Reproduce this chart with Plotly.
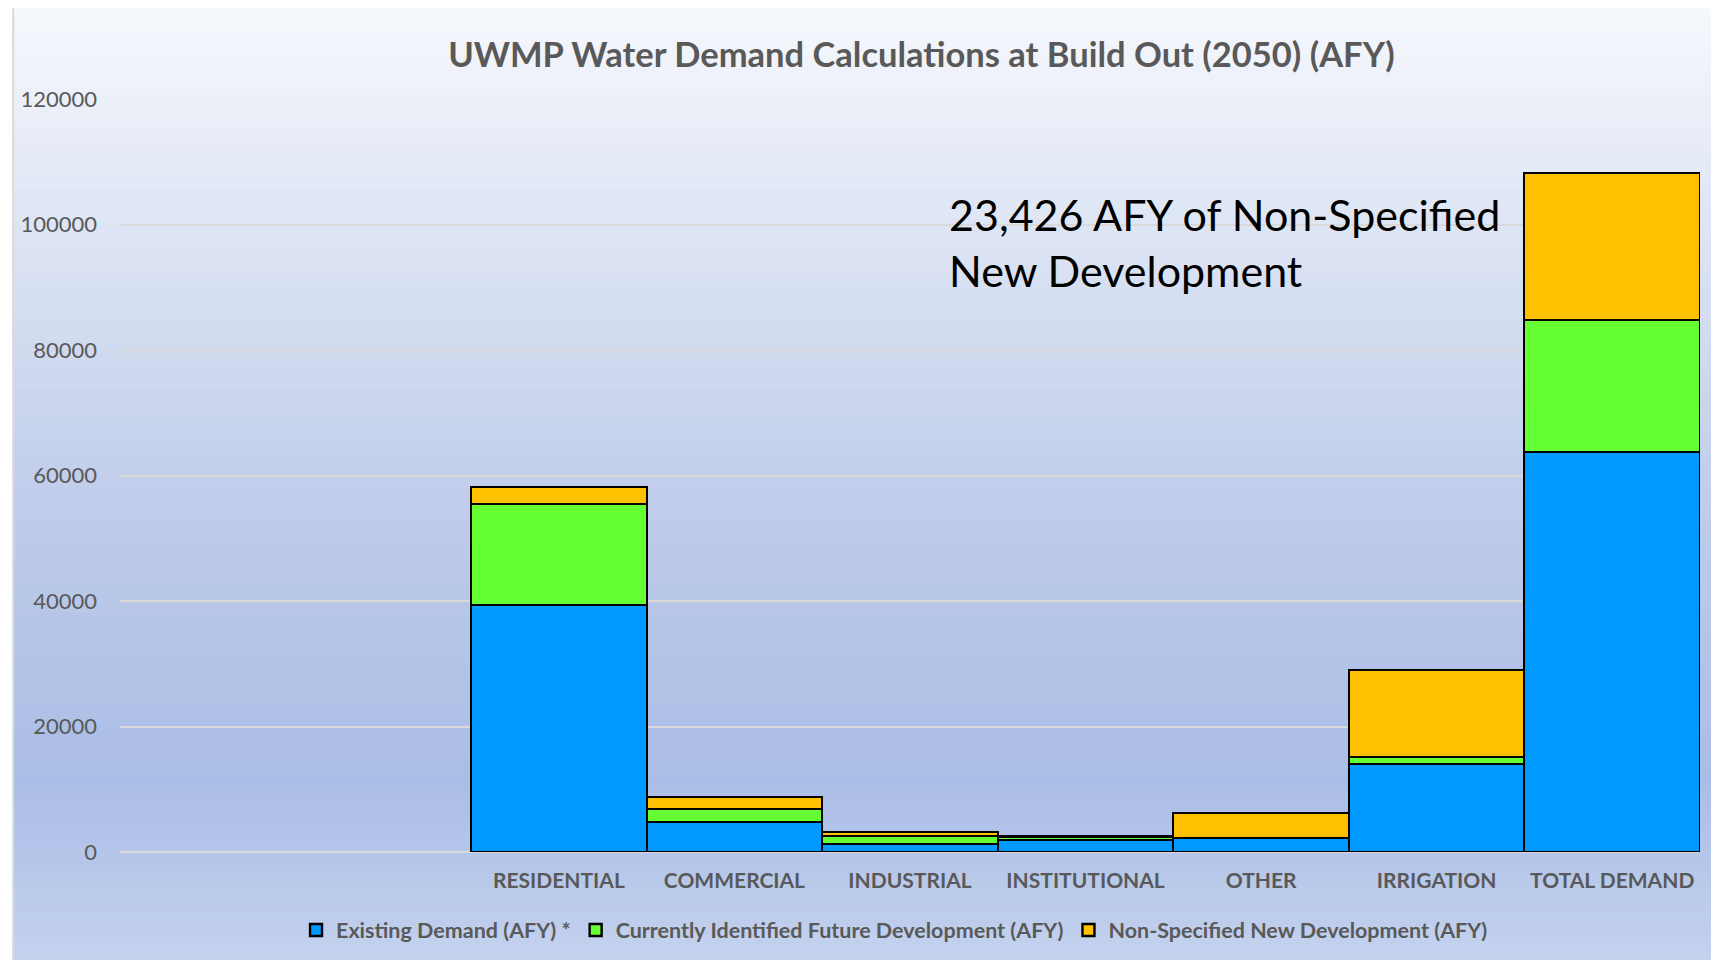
import plotly.graph_objects as go
import numpy as np

# ---- data ----
categories = ["RESIDENTIAL", "COMMERCIAL", "INDUSTRIAL", "INSTITUTIONAL", "OTHER", "IRRIGATION", "TOTAL DEMAND"]
slot_positions = [2, 3, 4, 5, 6, 7, 8]   # two empty category slots on the left
existing = [39430, 4840, 1200, 1835, 2190, 14000, 63700]
identified = [16000, 2070, 1280, 480, 40, 1110, 21030]
nonspecified = [2780, 1910, 720, 240, 4040, 13940, 23426]
series_names = ["Existing Demand (AFY) *", "Currently Identified Future Development (AFY)",
                "Non-Specified New Development (AFY)"]
y_ticks = [0, 20000, 40000, 60000, 80000, 100000, 120000]

colors = ["#0099FF", "#66FF33", "#FFC000"]
FONT = "Lato"
GRAY = "#595959"

W, H = 1719, 960
OFF = 8  # page body margin
# target plot area in page pixels: x 117..1700, y 99..852
PL, PR, PT, PB = 117, 1700, 99, 852
L = PL - OFF
T = PT - OFF
R = W - (PR - OFF)
B = H - (PB - OFF)
pw, ph = PR - PL, PB - PT

def px2x(px):
    return (px - PL) / pw

def py2y(py):
    return (PB - py) / ph

fig = go.Figure()
for name, vals, c in zip(series_names, [existing, identified, nonspecified], colors):
    fig.add_trace(go.Bar(
        x=slot_positions, y=vals, name="<b>%s</b>" % name,
        marker=dict(color=c, line=dict(color="black", width=2.4)),
        width=1.0,
    ))

# gradient background via strips
stops_py = [5, 250, 500, 780, 960]
stops_rgb = np.array([[246, 248, 252], [219, 227, 243], [192, 205, 234], [170, 189, 230], [196, 210, 238]])
shapes = []
n = 96
edges = np.linspace(5, 975, n + 1)
for i in range(n):
    mid = (edges[i] + edges[i + 1]) / 2
    rgb = [int(round(np.interp(mid, stops_py, stops_rgb[:, k]))) for k in range(3)]
    shapes.append(dict(type="rect", xref="paper", yref="paper", layer="below",
                       x0=px2x(10), x1=px2x(W + 20), y0=py2y(edges[i + 1] + 0.6), y1=py2y(edges[i]),
                       fillcolor="rgb(%d,%d,%d)" % tuple(rgb), line=dict(width=0)))
shapes.append(dict(type="rect", xref="paper", yref="paper", layer="below",
                   x0=px2x(10), x1=px2x(W + 20), y0=py2y(H + 20), y1=py2y(5),
                   fillcolor="rgba(0,0,0,0)", line=dict(color="#D9D9D9", width=2)))

fig.update_layout(
    width=W, height=H,
    margin=dict(l=L, r=R, t=T, b=B),
    barmode="stack", bargap=0,
    paper_bgcolor="white", plot_bgcolor="rgba(0,0,0,0)",
    shapes=shapes,
    font=dict(family=FONT, color=GRAY),
    title=dict(text="<b>UWMP Water Demand Calculations at Build Out (2050) (AFY)</b>",
               x=px2x(920), xref="paper", xanchor="center",
               y=1 - (50 * 1719 / 1568 - OFF) / H, yref="container", yanchor="middle",
               font=dict(family=FONT, size=34.5, color=GRAY)),
    xaxis=dict(range=[-0.5, 8.5], tickvals=slot_positions, ticktext=["<b>%s</b>" % c for c in categories],
               showgrid=False, zeroline=False, showline=False, ticks="",
               tickfont=dict(family=FONT, size=21, color=GRAY), ticklabelstandoff=14),
    yaxis=dict(range=[0, 120000], tickvals=y_ticks, ticktext=[str(v) for v in y_ticks],
               showgrid=True, gridcolor="#D9D9D9", gridwidth=1.5,
               zeroline=True, zerolinecolor="#D9D9D9", zerolinewidth=1.5, showline=False,
               ticks="", tickfont=dict(family=FONT, size=22, color=GRAY), ticklabelstandoff=22),
    legend=dict(orientation="h", x=px2x(893), xanchor="center", y=py2y(930), yanchor="middle",
                font=dict(family=FONT, size=21.5, color=GRAY), bgcolor="rgba(0,0,0,0)",
                itemwidth=30, traceorder="normal"),
    annotations=[dict(text="23,426 AFY of Non-Specified<br>New Development",
                      xref="paper", yref="paper", x=px2x(946), y=py2y(242), xanchor="left", yanchor="middle",
                      align="left", showarrow=False, font=dict(family=FONT, size=43, color="black"))],
)

fig.write_html("out.html")
